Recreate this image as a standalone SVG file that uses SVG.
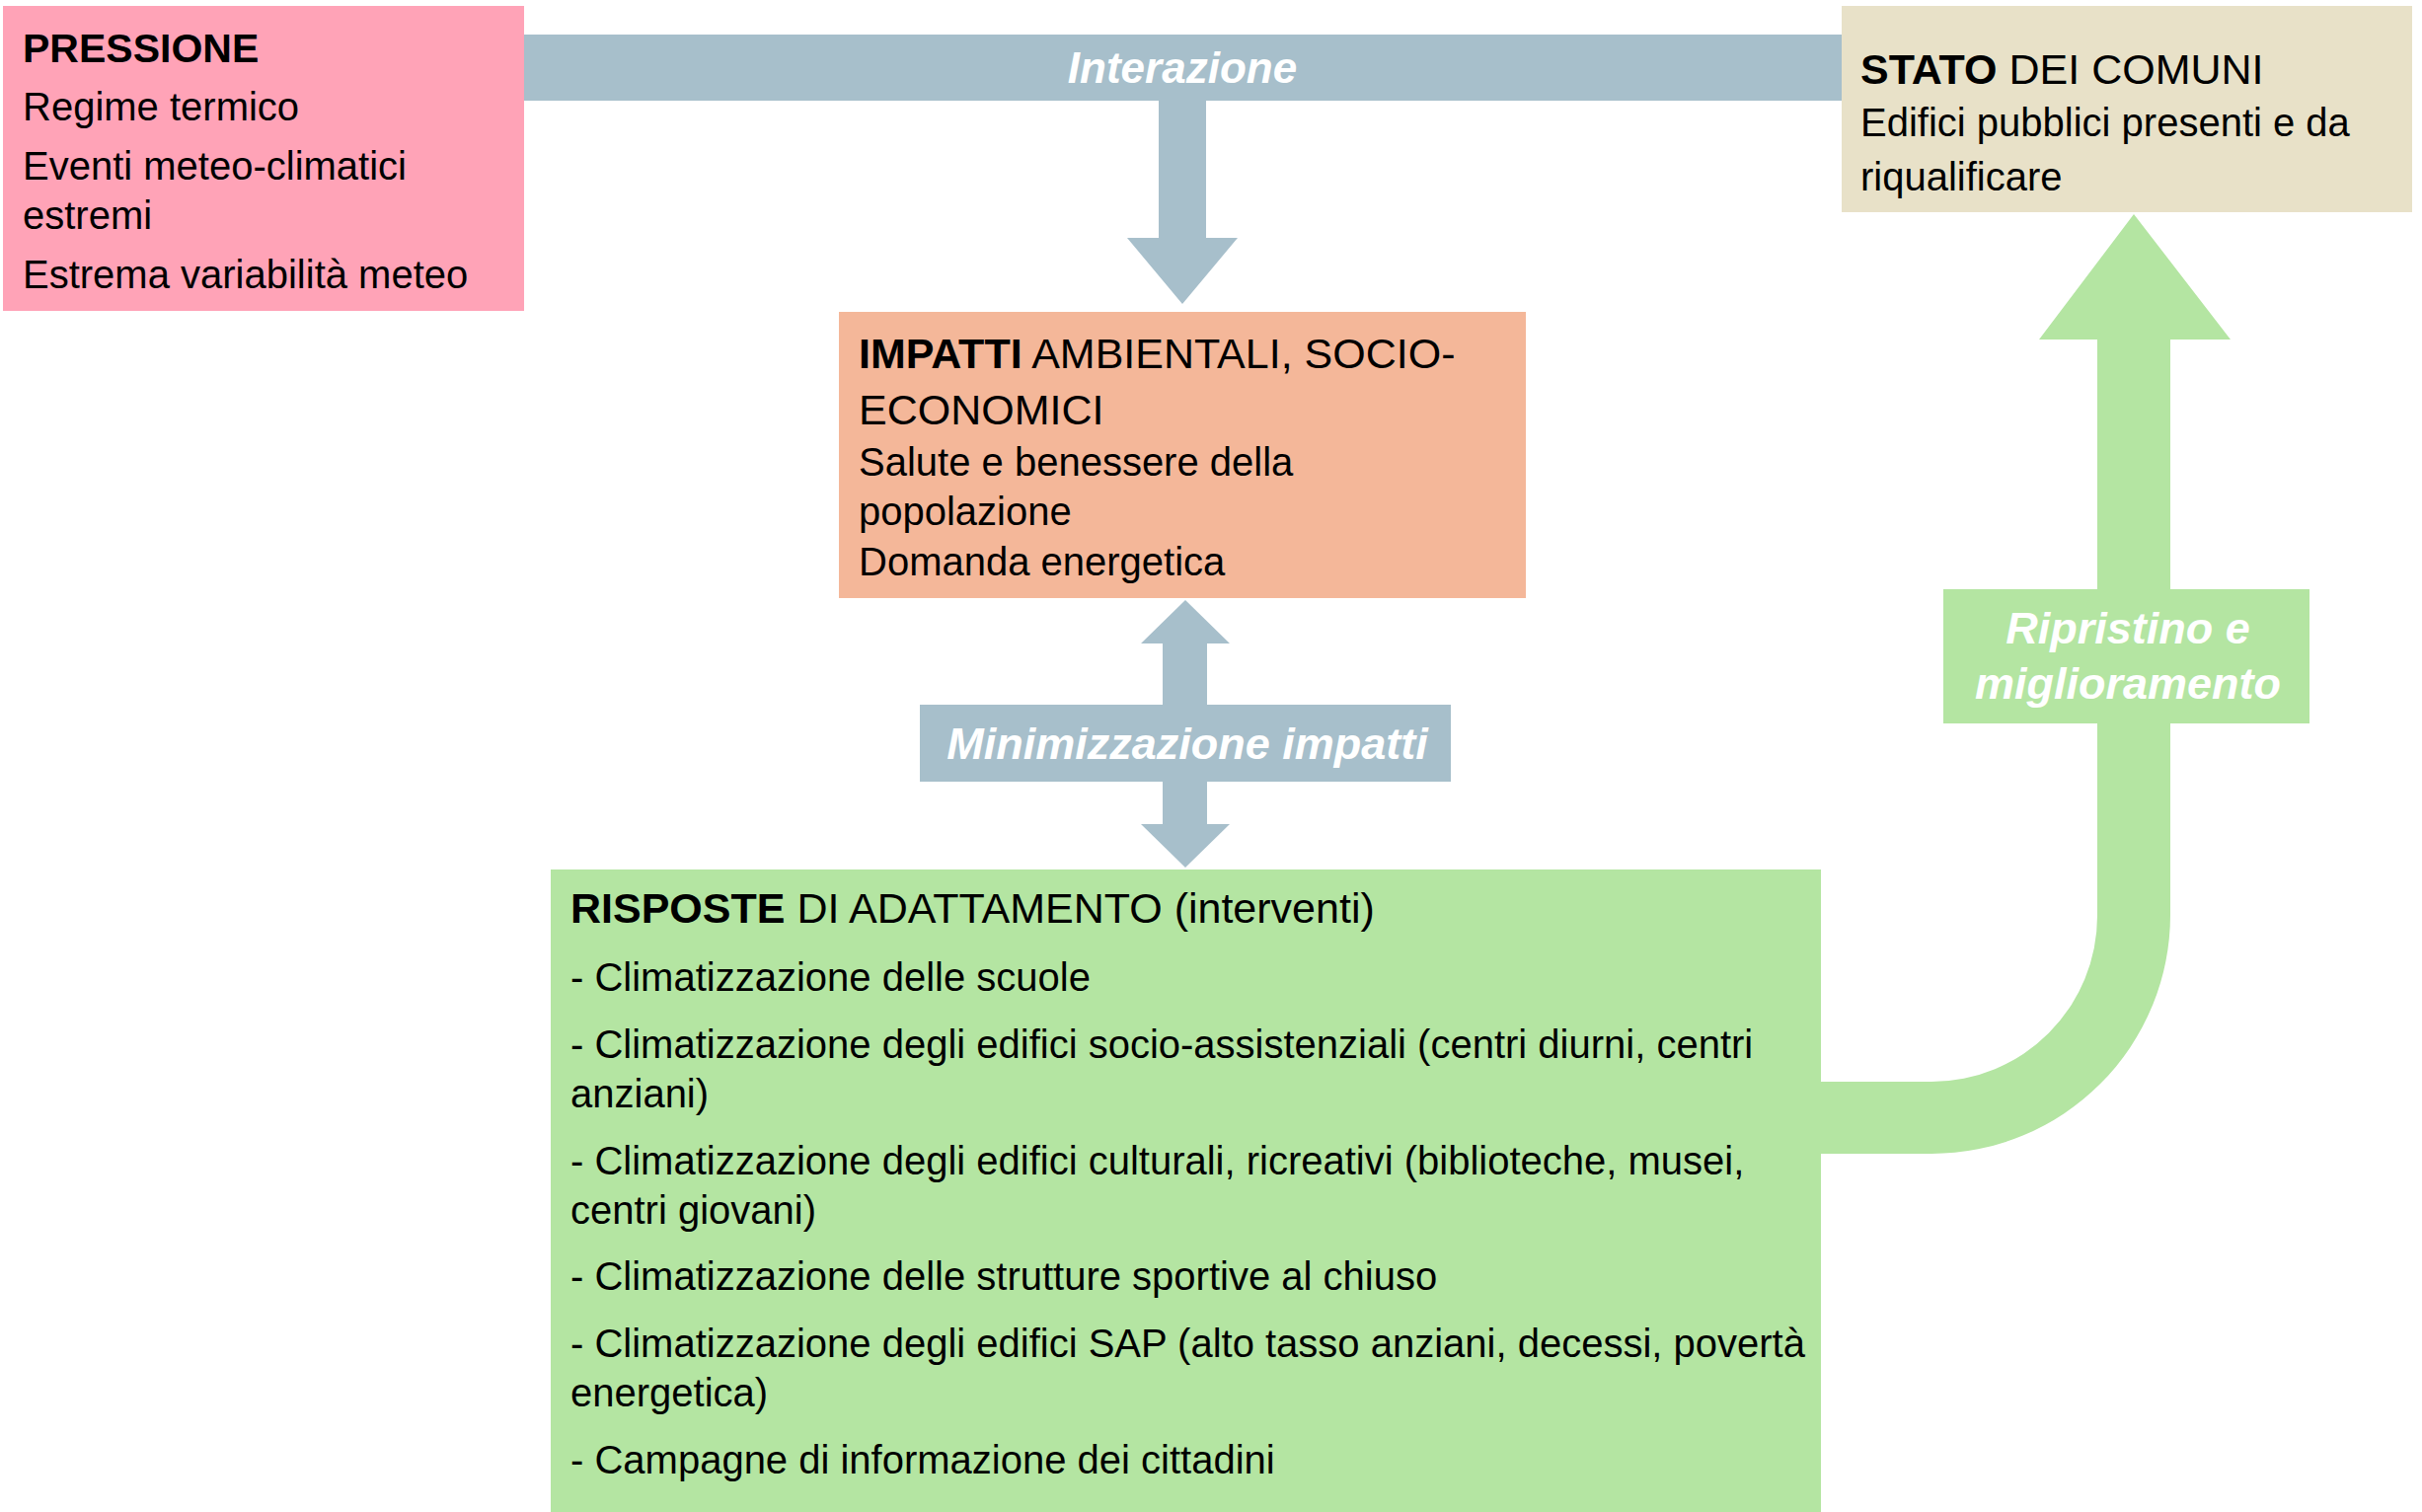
<svg xmlns="http://www.w3.org/2000/svg" width="2454" height="1532" viewBox="0 0 2454 1532">
<style>
text{font-family:"Liberation Sans",Arial,sans-serif;fill:#000}
.t{font-size:43px}
.b{font-weight:bold}
.body{font-size:40px}
.lbl{font-size:45px;font-weight:bold;font-style:italic;fill:#fff}
.blue{fill:#A7BFCB}
.green{fill:#B4E5A2}
</style>
<rect width="2454" height="1532" fill="#fff"/>
<g id="connectors">
  <rect class="blue" x="531" y="35" width="1335" height="67"/>
  <path class="blue" d="M1174 102 L1222 102 L1222 241 L1254 241 L1198 308 L1142 241 L1174 241 Z"/>
  <path class="blue" d="M1201 608 L1246 652 L1223 652 L1223 835 L1246 835 L1201 879 L1156 835 L1178 835 L1178 652 L1156 652 Z"/>
  <rect class="blue" x="932" y="714" width="538" height="78"/>
  <path class="green" d="M2162 217 L2260 344 L2199 344 L2199 927 A242 242 0 0 1 1957 1169 L1845 1169 L1845 1096 L1957 1096 A168 168 0 0 0 2125 928 L2125 344 L2066 344 Z"/>
  <rect class="green" x="1969" y="597" width="371" height="136"/>
  <text class="lbl" x="1198" y="84" text-anchor="middle" style="font-size:44px">Interazione</text>
  <text class="lbl" x="1203" y="769" text-anchor="middle">Minimizzazione impatti</text>
  <text class="lbl" x="2156" y="652" text-anchor="middle">Ripristino e</text>
  <text class="lbl" x="2156" y="708" text-anchor="middle">miglioramento</text>
</g>
<g id="pressione">
  <rect x="3" y="6" width="528" height="309" fill="#FFA3B7"/>
  <text class="b" x="23" y="63" style="font-size:41px">PRESSIONE</text>
  <text class="body" x="23" y="122">Regime termico</text>
  <text class="body" x="23" y="182">Eventi meteo-climatici</text>
  <text class="body" x="23" y="232">estremi</text>
  <text class="body" x="23" y="292">Estrema variabilità meteo</text>
</g>
<g id="impatti">
  <rect x="850" y="316" width="696" height="290" fill="#F4B799"/>
  <text class="t" x="870" y="373"><tspan class="b">IMPATTI</tspan> AMBIENTALI, SOCIO-</text>
  <text class="t" x="870" y="430">ECONOMICI</text>
  <text class="body" x="870" y="482">Salute e benessere della</text>
  <text class="body" x="870" y="532">popolazione</text>
  <text class="body" x="870" y="583">Domanda energetica</text>
</g>
<g id="stato">
  <rect x="1866" y="6" width="578" height="209" fill="#E8E1C8"/>
  <text class="t" x="1885" y="85"><tspan class="b">STATO</tspan> DEI COMUNI</text>
  <text class="body" x="1885" y="138">Edifici pubblici presenti e da</text>
  <text class="body" x="1885" y="193">riqualificare</text>
</g>
<g id="risposte">
  <rect class="green" x="558" y="881" width="1287" height="651"/>
  <text class="t" x="578" y="935"><tspan class="b">RISPOSTE</tspan> DI ADATTAMENTO (interventi)</text>
  <text class="body" x="578" y="1004">- Climatizzazione delle scuole</text>
  <text class="body" x="578" y="1072">- Climatizzazione degli edifici socio-assistenziali (centri diurni, centri</text>
  <text class="body" x="578" y="1122">anziani)</text>
  <text class="body" x="578" y="1190">- Climatizzazione degli edifici culturali, ricreativi (biblioteche, musei,</text>
  <text class="body" x="578" y="1240">centri giovani)</text>
  <text class="body" x="578" y="1307">- Climatizzazione delle strutture sportive al chiuso</text>
  <text class="body" x="578" y="1375">- Climatizzazione degli edifici SAP (alto tasso anziani, decessi, povertà</text>
  <text class="body" x="578" y="1425">energetica)</text>
  <text class="body" x="578" y="1493">- Campagne di informazione dei cittadini</text>
</g>
</svg>
